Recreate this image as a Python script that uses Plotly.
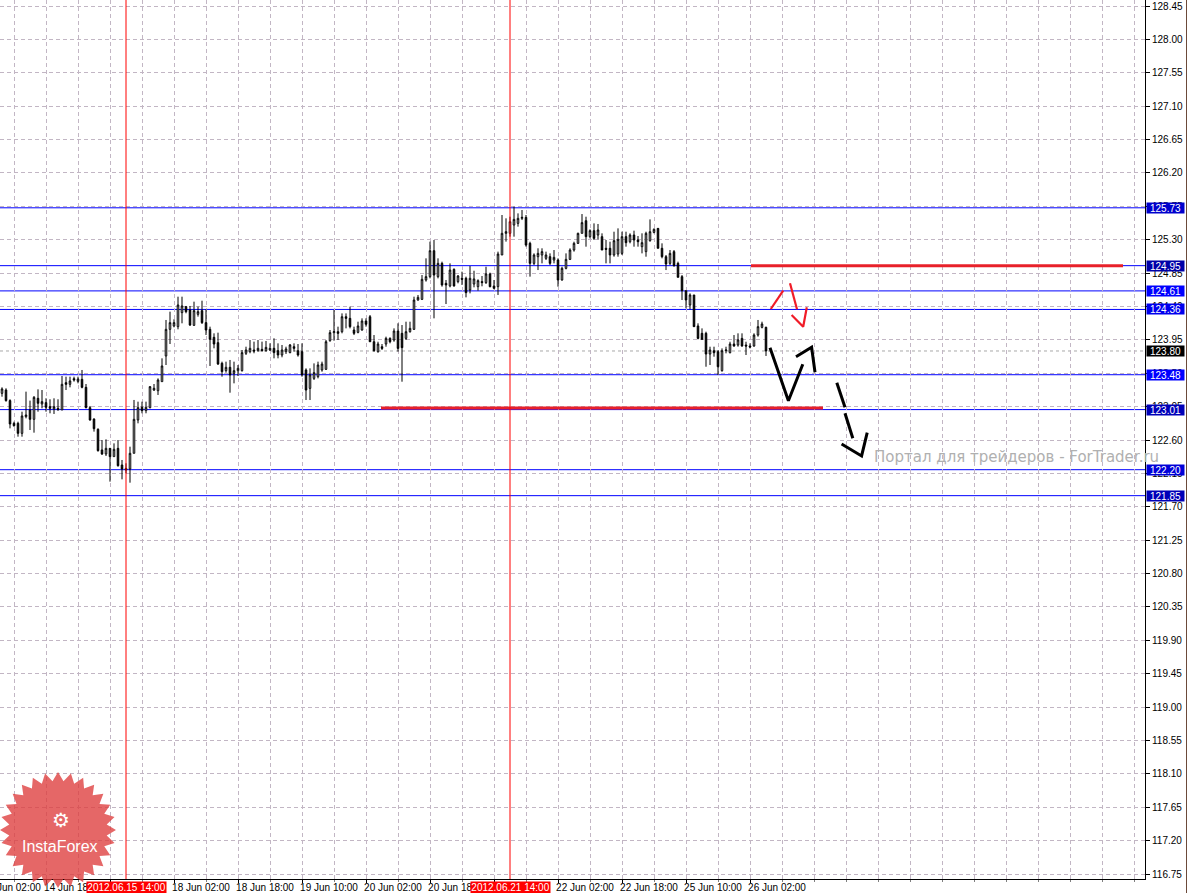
import numpy as np
import plotly.graph_objects as go

# H1 candles, bar index 0 = 14 Jun 07:00
bar_open = [
    123.229, 123.274, 123.131, 122.825, 122.825, 122.690, 122.915, 123.005, 122.879, 123.162,
    123.086, 123.104, 123.050, 123.018, 123.027, 123.005, 123.373, 123.351, 123.427, 123.391,
    123.418, 123.310, 123.036, 122.883, 122.744, 122.466, 122.412, 122.488, 122.376, 122.488,
    122.263, 122.218, 122.209, 122.421, 122.870, 123.041, 122.996, 123.036, 123.274, 123.265,
    123.387, 123.733, 124.092, 124.137, 124.128, 124.317, 124.398, 124.353, 124.146, 124.294,
    124.344, 124.182, 124.092, 123.984, 123.912, 123.634, 123.535, 123.580, 123.499, 123.535,
    123.535, 123.769, 123.791, 123.813, 123.804, 123.822, 123.804, 123.813, 123.836, 123.804,
    123.746, 123.791, 123.778, 123.858, 123.804, 123.791, 123.544, 123.296, 123.431, 123.454,
    123.544, 123.553, 123.939, 124.047, 124.060, 124.060, 124.262, 124.240, 124.083, 124.051,
    124.083, 124.204, 124.262, 123.925, 123.791, 123.858, 123.894, 123.970, 123.948, 124.069,
    124.038, 123.970, 124.060, 124.092, 124.487, 124.496, 124.757, 124.802, 125.152, 124.802,
    124.981, 124.712, 124.677, 124.900, 124.735, 124.780, 124.780, 124.622, 124.703, 124.667,
    124.735, 124.722, 124.838, 124.676, 124.667, 125.094, 125.386, 125.386, 125.498, 125.520,
    125.588, 125.601, 125.251, 124.981, 125.071, 125.094, 125.049, 125.071, 125.026, 125.026,
    124.757, 124.914, 125.035, 125.161, 125.251, 125.386, 125.556, 125.341, 125.422, 125.363,
    125.341, 125.184, 125.184, 125.094, 125.107, 125.116, 125.341, 125.273, 125.363, 125.296,
    125.206, 125.139, 125.287, 125.399, 125.453, 125.184, 125.071, 124.981, 125.139, 124.981,
    124.802, 124.613, 124.420, 124.555, 124.137, 124.038, 124.038, 123.759, 123.804, 123.791,
    123.535, 123.804, 123.777, 123.894, 123.880, 123.970, 123.880, 123.867, 123.867, 124.015,
    124.119, 124.119,
]
bar_high = [
    123.310, 123.297, 123.149, 122.847, 122.847, 122.982, 123.252, 123.131, 123.193, 123.283,
    123.274, 123.162, 123.149, 123.162, 123.149, 123.463, 123.454, 123.454, 123.454, 123.454,
    123.544, 123.355, 123.059, 122.892, 122.758, 122.600, 122.609, 122.488, 122.555, 122.600,
    122.331, 122.286, 122.510, 123.140, 123.117, 123.117, 123.117, 123.328, 123.355, 123.431,
    123.701, 124.218, 124.330, 124.227, 124.532, 124.532, 124.407, 124.407, 124.465, 124.398,
    124.478, 124.362, 124.128, 124.038, 124.047, 123.656, 123.656, 123.679, 123.656, 123.611,
    123.813, 123.858, 123.948, 123.926, 123.948, 123.926, 123.935, 123.903, 123.971, 123.903,
    123.881, 123.858, 123.894, 123.903, 123.894, 123.903, 123.566, 123.566, 123.633, 123.656,
    123.656, 123.948, 124.083, 124.352, 124.128, 124.307, 124.307, 124.397, 124.128, 124.195,
    124.240, 124.240, 124.285, 124.015, 123.925, 123.894, 123.993, 123.984, 124.105, 124.173,
    124.150, 124.195, 124.195, 124.532, 124.555, 124.824, 125.049, 125.274, 125.296, 125.049,
    125.004, 124.757, 124.981, 124.914, 124.824, 124.869, 124.802, 124.945, 124.882, 124.766,
    124.811, 124.936, 124.856, 124.757, 125.139, 125.633, 125.588, 125.610, 125.745, 125.655,
    125.700, 125.633, 125.273, 125.116, 125.184, 125.184, 125.139, 125.116, 125.161, 125.049,
    124.936, 125.116, 125.184, 125.273, 125.395, 125.646, 125.610, 125.440, 125.520, 125.512,
    125.386, 125.296, 125.273, 125.408, 125.453, 125.408, 125.408, 125.386, 125.422, 125.350,
    125.386, 125.408, 125.574, 125.453, 125.453, 125.251, 125.094, 125.161, 125.161, 125.004,
    124.824, 124.613, 124.577, 124.555, 124.173, 124.105, 124.060, 123.858, 123.858, 123.813,
    123.835, 123.858, 123.925, 124.015, 124.038, 124.038, 123.925, 123.903, 124.038, 124.218,
    124.195, 124.128,
]
bar_low = [
    123.184, 123.117, 122.757, 122.780, 122.645, 122.645, 122.892, 122.735, 122.699, 122.982,
    123.027, 122.982, 122.960, 122.951, 122.992, 123.005, 123.274, 123.310, 123.387, 123.364,
    123.297, 123.027, 122.861, 122.713, 122.443, 122.398, 122.385, 122.039, 122.376, 122.241,
    122.070, 122.151, 122.025, 122.421, 122.825, 122.960, 122.960, 123.027, 123.261, 123.207,
    123.387, 123.611, 123.894, 124.119, 124.092, 124.173, 124.308, 124.137, 124.137, 124.263,
    124.164, 124.016, 123.598, 123.836, 123.611, 123.454, 123.508, 123.238, 123.364, 123.463,
    123.522, 123.746, 123.769, 123.769, 123.791, 123.791, 123.791, 123.800, 123.701, 123.701,
    123.715, 123.760, 123.769, 123.791, 123.724, 123.454, 123.139, 123.139, 123.409, 123.431,
    123.521, 123.544, 123.925, 123.939, 123.948, 124.038, 124.105, 124.105, 124.015, 124.038,
    124.074, 124.128, 123.925, 123.791, 123.777, 123.813, 123.858, 123.903, 123.925, 123.791,
    123.386, 123.948, 124.047, 124.083, 124.478, 124.487, 124.735, 124.779, 124.240, 124.779,
    124.667, 124.433, 124.658, 124.667, 124.712, 124.690, 124.523, 124.577, 124.658, 124.613,
    124.672, 124.703, 124.658, 124.631, 124.555, 125.094, 125.274, 125.341, 125.341, 125.476,
    125.565, 125.206, 124.802, 124.959, 124.891, 124.981, 125.026, 124.959, 124.981, 124.667,
    124.748, 124.900, 125.026, 125.139, 125.242, 125.386, 125.206, 125.318, 125.296, 125.305,
    125.161, 124.981, 124.981, 125.071, 125.071, 125.094, 125.206, 125.251, 125.206, 125.206,
    125.116, 125.071, 125.273, 125.386, 125.184, 125.049, 124.891, 124.959, 124.936, 124.793,
    124.487, 124.375, 124.361, 124.128, 123.957, 123.948, 123.588, 123.611, 123.723, 123.477,
    123.521, 123.768, 123.768, 123.858, 123.858, 123.858, 123.746, 123.835, 123.858, 123.993,
    124.105, 123.733,
]
bar_close = [
    123.288, 123.131, 122.816, 122.793, 122.690, 122.924, 122.937, 122.879, 123.175, 123.095,
    123.117, 123.041, 123.027, 123.050, 123.014, 123.351, 123.351, 123.396, 123.409, 123.422,
    123.310, 123.036, 122.870, 122.753, 122.457, 122.412, 122.488, 122.376, 122.475, 122.254,
    122.209, 122.196, 122.421, 122.879, 123.036, 122.996, 123.041, 123.319, 123.297, 123.409,
    123.598, 124.092, 124.182, 124.182, 124.420, 124.407, 124.330, 124.150, 124.344, 124.330,
    124.182, 124.083, 123.957, 123.894, 123.625, 123.522, 123.580, 123.477, 123.535, 123.566,
    123.778, 123.813, 123.836, 123.800, 123.836, 123.804, 123.849, 123.836, 123.778, 123.746,
    123.813, 123.827, 123.881, 123.836, 123.746, 123.477, 123.274, 123.477, 123.508, 123.611,
    123.624, 123.925, 124.047, 124.060, 124.038, 124.262, 124.240, 124.128, 124.038, 124.137,
    124.204, 124.160, 123.925, 123.804, 123.894, 123.835, 123.970, 123.925, 124.069, 123.835,
    123.845, 124.060, 124.105, 124.487, 124.523, 124.766, 124.802, 125.152, 124.824, 124.981,
    124.690, 124.690, 124.891, 124.677, 124.811, 124.766, 124.586, 124.780, 124.771, 124.748,
    124.722, 124.838, 124.667, 124.645, 125.107, 125.386, 125.408, 125.543, 125.574, 125.588,
    125.601, 125.228, 124.981, 125.094, 125.116, 125.139, 125.094, 124.981, 125.062, 124.757,
    124.914, 125.035, 125.161, 125.251, 125.386, 125.530, 125.341, 125.422, 125.318, 125.431,
    125.161, 125.170, 125.094, 125.287, 125.305, 125.341, 125.260, 125.363, 125.296, 125.273,
    125.260, 125.386, 125.408, 125.440, 125.184, 125.071, 124.972, 125.116, 124.950, 124.793,
    124.613, 124.487, 124.555, 124.128, 123.970, 123.957, 123.759, 123.813, 123.777, 123.588,
    123.804, 123.813, 123.894, 123.867, 123.948, 123.867, 123.867, 123.853, 124.015, 124.128,
    124.164, 123.800,
]
bar_index = list(range(len(bar_open)))

time_tick_pos = [11, 27, 43, 59, 75, 91, 107, 123, 139, 155, 171, 187]
time_tick_text = ['14 Jun 18:00', '15 Jun 10:00', '18 Jun 02:00', '18 Jun 18:00', '19 Jun 10:00',
                  '20 Jun 02:00', '20 Jun 18:00', '21 Jun 10:00', '22 Jun 02:00', '22 Jun 18:00',
                  '25 Jun 10:00', '26 Jun 02:00']
first_label = '14 Jun 02:00'

level_prices = [125.73, 124.95, 124.61, 124.36, 123.48, 123.01, 122.20, 121.85]
level_box_colors = ['#0000cd', '#0000a8', '#0000ff', '#0000ee', '#0000ff', '#0000b8', '#0000d8', '#0000b8']
bid_price = 123.80

marker_bars = [31, 127]
marker_labels = ['2012.06.15 14:00', '2012.06.21 14:00']

# thick red zones (start bar, end bar, price)
zone_start = [187.25, 94.75]
zone_end = [280.25, 205.25]
zone_price = [124.95, 123.03]

# hand-drawn red arrow
red_x = [192.2, 195.3, None, 197.0, 198.75, None, 197.4, 200.3, 201.2]
red_y = [124.366, 124.613, None, 124.712, 124.362, None, 124.285, 124.127, 124.389]

# hand-drawn black forecast path
black_x = [192.0, 196.6, 200.2, None, 198.5, 202.4, 203.25, None, 208.7, 210.75, None,
           210.75, 212.7, None, 209.9, 214.9, 216.3]
black_y = [123.844, 123.130, 123.621, None, 123.723, 123.850, 123.513, None, 123.373, 123.041, None,
           122.960, 122.623, None, 122.546, 122.385, 122.699]

W, H = 1188, 893
ML, MR, MT, MB = 0, 43, 0, 14
PW, PH = W - ML - MR, H - MT - MB

grid_col = '#c2b6c4'
grid_dash = '4px,3px'
font_fam = 'Liberation Sans, Arial, sans-serif'

fig = go.Figure()

fig.add_trace(go.Candlestick(
    x=bar_index, open=bar_open, high=bar_high, low=bar_low, close=bar_close,
    increasing=dict(line=dict(color='black', width=1), fillcolor='white'),
    decreasing=dict(line=dict(color='black', width=1), fillcolor='black'),
    whiskerwidth=0, hoverinfo='skip', showlegend=False))

shapes = []
for p, c in zip(level_prices, level_box_colors):
    shapes.append(dict(type='line', xref='paper', yref='y', x0=0, x1=1, y0=p, y1=p,
                       line=dict(color='#0000ff', width=1), layer='below'))
shapes.append(dict(type='line', xref='paper', yref='y', x0=0, x1=1, y0=bid_price, y1=bid_price,
                   line=dict(color='#a8a8a8', width=1, dash='dot'), layer='below'))
for b in marker_bars:
    shapes.append(dict(type='line', xref='x', yref='paper', x0=b, x1=b, y0=0, y1=1,
                       line=dict(color='#ff0000', width=1), layer='above'))

# window border at far right
shapes.append(dict(type='line', xref='paper', yref='paper', x0=1186.5 / PW, x1=1186.5 / PW,
                   y0=-MB / PH, y1=1, line=dict(color='#6b4a3a', width=1)))

for x0, x1, p in zip(zone_start, zone_end, zone_price):
    fig.add_trace(go.Scatter(x=[x0, x1], y=[p, p], mode='lines',
                             line=dict(color='#e8202a', width=3), hoverinfo='skip', showlegend=False))

fig.add_trace(go.Scatter(x=red_x, y=red_y, mode='lines', line=dict(color='#f01c28', width=2.2),
                         hoverinfo='skip', showlegend=False, connectgaps=False))
fig.add_trace(go.Scatter(x=black_x, y=black_y, mode='lines', line=dict(color='black', width=3),
                         hoverinfo='skip', showlegend=False, connectgaps=False))

# InstaForex badge
n_spk = 28
cx, cy, r_out, r_in = 58, 830, 58, 49
pts = []
for k in range(2 * n_spk):
    rad = r_out if k % 2 == 0 else r_in
    a = np.pi * k / n_spk
    pts.append(((cx + rad * np.cos(a)) / PW, 1 - (cy + rad * np.sin(a)) / PH))
star = 'M ' + ' L '.join(f'{x:.5f},{y:.5f}' for x, y in pts) + ' Z'
shapes.append(dict(type='path', xref='paper', yref='paper', path=star,
                   fillcolor='rgb(222,60,60)', opacity=0.78, line=dict(width=0), layer='above'))

annotations = []
for p, c in zip(level_prices, level_box_colors):
    annotations.append(dict(xref='paper', yref='y', x=1, y=p, xanchor='left', yanchor='middle',
                            xshift=1, text=f'{p:.2f}', showarrow=False, bgcolor=c, width=37, height=10,
                            borderpad=0, font=dict(color='white', size=10, family=font_fam)))
annotations.append(dict(xref='paper', yref='y', x=1, y=bid_price, xanchor='left', yanchor='middle',
                        xshift=1, text=f'{bid_price:.2f}', showarrow=False, bgcolor='black', width=37,
                        height=10, borderpad=0, font=dict(color='white', size=10, family=font_fam)))
for b, lab in zip(marker_bars, marker_labels):
    annotations.append(dict(xref='x', yref='paper', x=b, y=0, xanchor='center', yanchor='top',
                            yshift=-2, text=lab, showarrow=False, bgcolor='#ff0000', width=79, height=11,
                            borderpad=0, font=dict(color='white', size=10, family=font_fam)))
annotations.append(dict(xref='paper', yref='paper', x=-18 / PW, y=0, xanchor='left', yanchor='top',
                        yshift=-2, text=first_label, showarrow=False, height=11, borderpad=0,
                        font=dict(color='black', size=10, family=font_fam)))
annotations.append(dict(xref='paper', yref='paper', x=872 / PW, y=1 - 457 / PH, xanchor='left',
                        yanchor='middle', text='Портал для трейдеров - ForTrader.ru', showarrow=False,
                        font=dict(color='#b0b0b0', size=15, family='DejaVu Sans, sans-serif')))
annotations.append(dict(xref='paper', yref='paper', x=60 / PW, y=1 - 846 / PH, xanchor='center',
                        yanchor='middle', text='InstaForex', showarrow=False,
                        font=dict(color='white', size=16, family=font_fam)))
annotations.append(dict(xref='paper', yref='paper', x=61 / PW, y=1 - 820 / PH, xanchor='center',
                        yanchor='middle', text='⚙', showarrow=False,
                        font=dict(color='white', size=20, family='DejaVu Sans')))

fig.update_layout(
    width=W, height=H, template='none',
    margin=dict(l=ML, r=MR, t=MT, b=MB, pad=0),
    paper_bgcolor='white', plot_bgcolor='white', showlegend=False,
    font=dict(family=font_fam, size=10, color='black'),
    boxgap=0.45, shapes=shapes, annotations=annotations,
    xaxis=dict(range=[-0.5, 285.75], tickmode='array', tickvals=time_tick_pos, ticktext=time_tick_text,
               ticks='outside', ticklen=3, tickcolor='black', tickangle=0, ticklabelshift=27,
               ticklabelstandoff=-4,
               showline=True, linecolor='black', linewidth=1, zeroline=False,
               showgrid=True, gridcolor=grid_col, griddash=grid_dash, gridwidth=1,
               minor=dict(tickmode='linear', tick0=3, dtick=8, ticks='outside', ticklen=2,
                          tickcolor='#808080', showgrid=True, gridcolor=grid_col, griddash=grid_dash),
               rangeslider=dict(visible=False), automargin=False, fixedrange=True,
               tickfont=dict(size=10, family=font_fam, color='black')),
    yaxis=dict(side='right', range=[116.683, 128.531], tickmode='linear', tick0=116.75, dtick=0.45,
               tickformat='.2f', ticks='outside', ticklen=4, tickcolor='black',
               showline=True, linecolor='black', linewidth=1, zeroline=False,
               showgrid=True, gridcolor=grid_col, griddash=grid_dash, gridwidth=1,
               automargin=False, fixedrange=True,
               tickfont=dict(size=10, family=font_fam, color='black')),
)

fig.write_html('out.html', config={'displayModeBar': False},
               post_script="document.body.style.margin='0';document.body.style.overflow='hidden';")
